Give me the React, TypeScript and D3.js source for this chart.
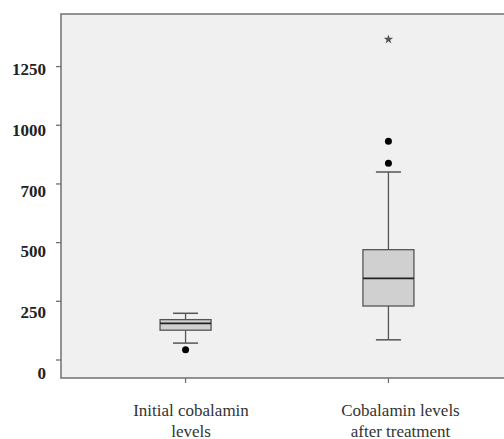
import React from "react";
import * as d3 from "d3";

const categories = ["Initial cobalamin|levels", "Cobalamin levels|after treatment"];
const lowerWhisker = [72, 86];
const q1 = [127, 230];
const median = [156, 348];
const q3 = [172, 470];
const upperWhisker = [199, 801];
const outliers = [[44], [838, 932]];
const extremes = [[], [1366]];
const tickValues = [0, 250, 500, 750, 1000, 1250];
const tickLabels = ["0", "250", "500", "700", "1000", "1250"];

const W = 504, H = 439;
const L = 61, T = 14, B = 378, R = 513;

export default function App() {
  const y = d3.scaleLinear().domain([0, 1250]).range([360, 66.6]);
  const yLabel = d3.scaleLinear().domain([0, 1250]).range([373, 69]);
  const x = d3.scalePoint<string>().domain(categories).range([L, R]).padding(0.614);
  const xLabel = d3.scalePoint<string>().domain(categories).range([191, 400.5]);
  const boxW = 51, capW = 25;
  const star = d3.symbol().type(d3.symbolStar).size(28)();
  return (
    <svg width={W} height={H} style={{ position: "absolute", left: 0, top: 0, background: "#fff" }}>
      <rect x={L} y={T} width={W - L + 10} height={B - T} fill="#f0f0f0" stroke="#707070" strokeWidth={1.5} />
      {tickValues.map((v, i) => (
        <g key={v}>
          <line x1={L - 5} x2={L} y1={y(v)} y2={y(v)} stroke="#707070" strokeWidth={1.3} />
          <text x={46} y={yLabel(v) + 6} textAnchor="end" fontFamily="Liberation Serif" fontWeight="bold" fontSize={17} fill="#222">
            {tickLabels[i]}
          </text>
        </g>
      ))}
      {categories.map((c, i) => {
        const cx = x(c)!;
        const lines = c.split("|");
        return (
          <g key={c}>
            <line x1={cx} x2={cx} y1={B} y2={B + 5} stroke="#707070" strokeWidth={1.3} />
            {lines.map((t, j) => (
              <text key={j} x={xLabel(c)!} y={415.5 + j * 21} textAnchor="middle" fontFamily="Liberation Serif" fontSize={17} fill="#333">
                {t}
              </text>
            ))}
            <line x1={cx} x2={cx} y1={y(upperWhisker[i])} y2={y(q3[i])} stroke="#555" strokeWidth={1.3} />
            <line x1={cx} x2={cx} y1={y(q1[i])} y2={y(lowerWhisker[i])} stroke="#555" strokeWidth={1.3} />
            <line x1={cx - capW / 2} x2={cx + capW / 2} y1={y(upperWhisker[i])} y2={y(upperWhisker[i])} stroke="#555" strokeWidth={1.5} />
            <line x1={cx - capW / 2} x2={cx + capW / 2} y1={y(lowerWhisker[i])} y2={y(lowerWhisker[i])} stroke="#555" strokeWidth={1.5} />
            <rect x={cx - boxW / 2} y={y(q3[i])} width={boxW} height={y(q1[i]) - y(q3[i])} fill="#d0d0d0" stroke="#555" strokeWidth={1.3} />
            <line x1={cx - boxW / 2} x2={cx + boxW / 2} y1={y(median[i])} y2={y(median[i])} stroke="#222" strokeWidth={1.8} />
            {outliers[i].map((o, k) => (
              <circle key={k} cx={cx} cy={y(o)} r={3.5} fill="#000" />
            ))}
            {extremes[i].map((o, k) => (
              <path key={k} d={star!} transform={`translate(${cx},${y(o)})`} fill="#555" />
            ))}
          </g>
        );
      })}
    </svg>
  );
}
